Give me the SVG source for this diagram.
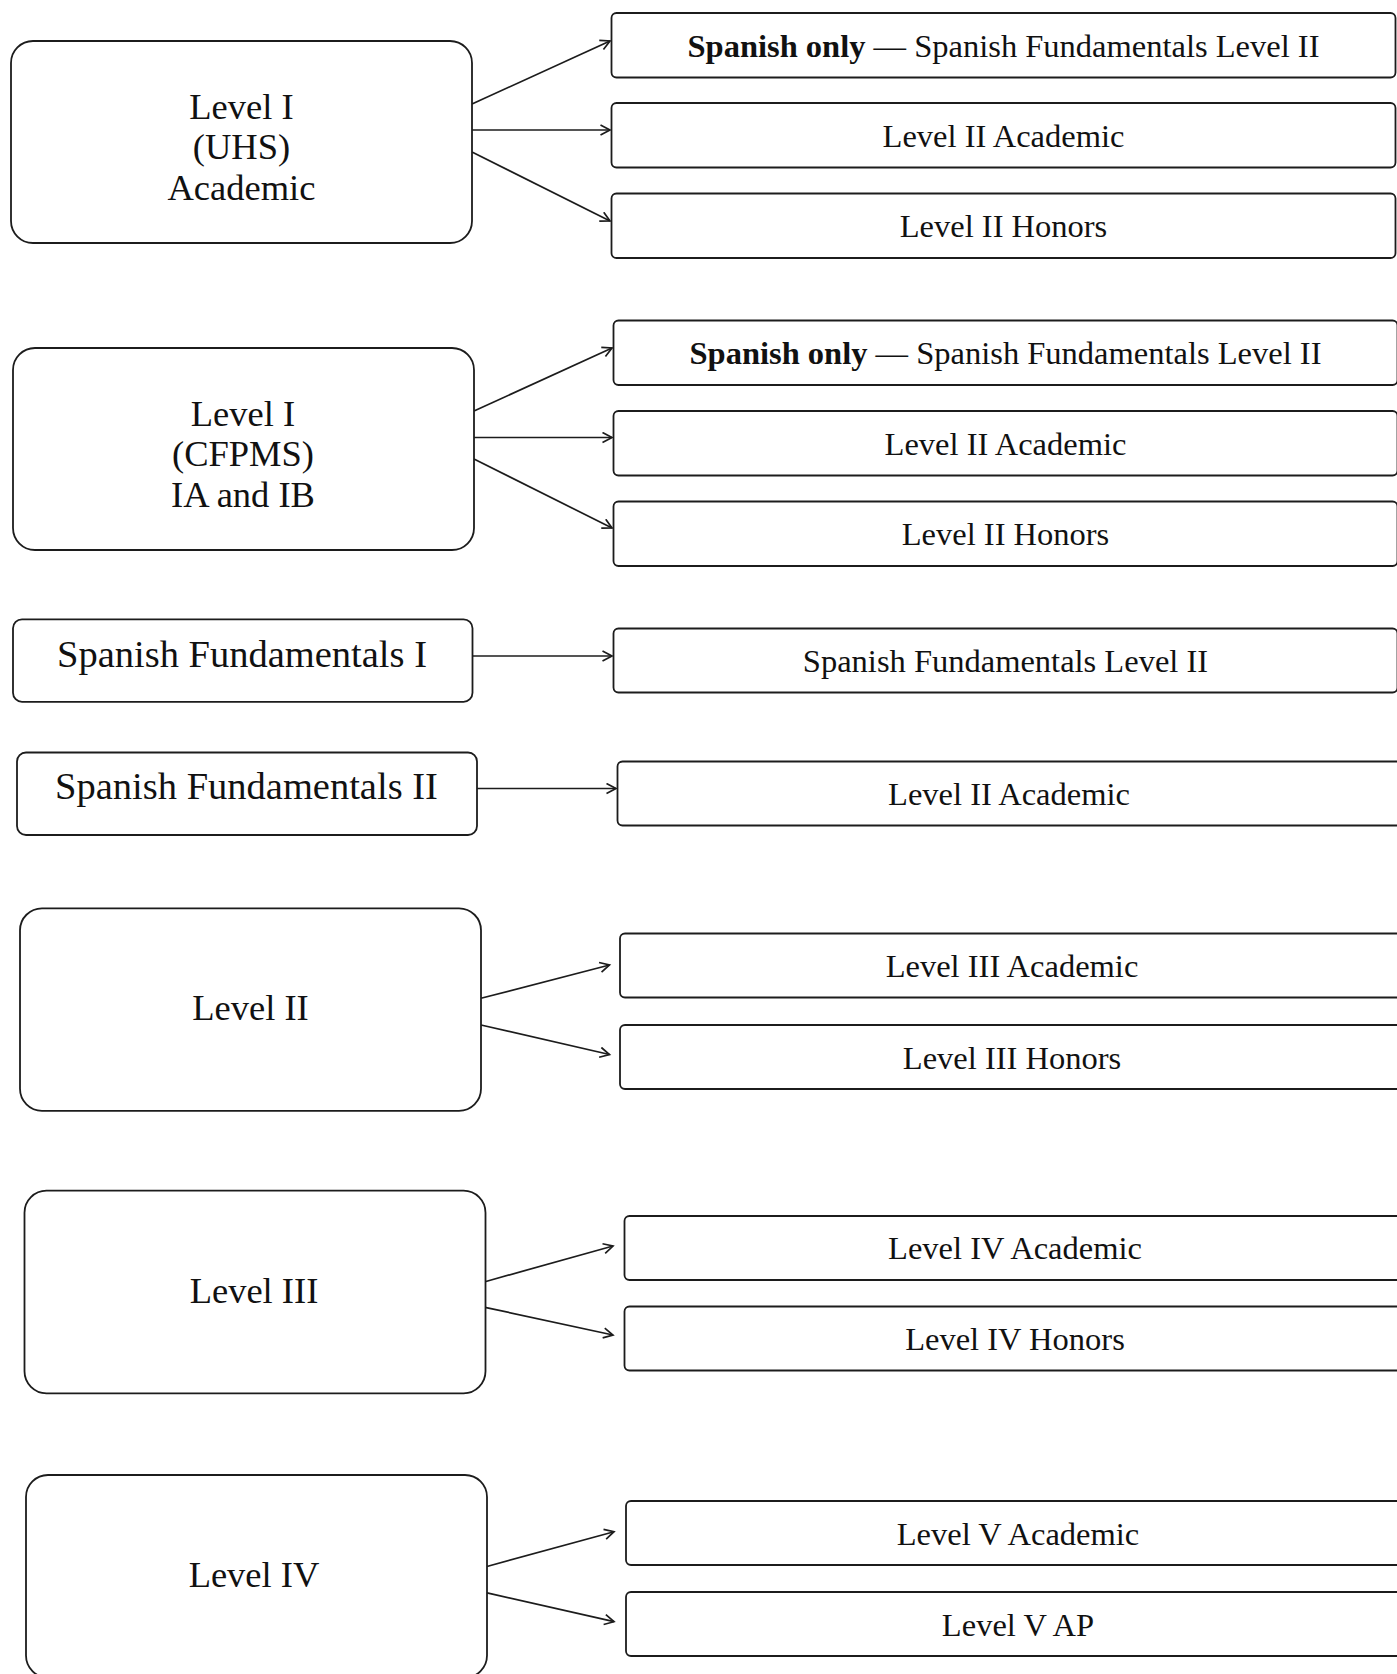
<svg xmlns="http://www.w3.org/2000/svg" width="1397" height="1674" viewBox="0 0 1397 1674">
<defs>
<style>
.box{fill:#fff;stroke:#1c1c1c;stroke-width:1.8}
.t{font-family:"Liberation Serif","Times New Roman",serif;fill:#111;text-anchor:middle}
.l{font-size:36.5px}
.s{font-size:38.5px}
.r{font-size:32.5px}
.c{fill:none;stroke:#1c1c1c;stroke-width:1.7;marker-end:url(#ah)}
</style>
<marker id="ah" markerUnits="userSpaceOnUse" markerWidth="14" markerHeight="14" refX="11" refY="6" orient="auto">
<path d="M1.5,1 L11,6 L1.5,11" fill="none" stroke="#1c1c1c" stroke-width="1.7"/>
</marker>
</defs>
<rect width="1397" height="1674" fill="#fff"/>

<g id="connectors">
<line class="c" x1="472" y1="104" x2="610" y2="41"/>
<line class="c" x1="472" y1="130" x2="610" y2="130"/>
<line class="c" x1="472" y1="152" x2="610" y2="221"/>
<line class="c" x1="474" y1="411" x2="612" y2="348"/>
<line class="c" x1="474" y1="437.5" x2="612" y2="437.5"/>
<line class="c" x1="474" y1="459" x2="612" y2="528"/>
<line class="c" x1="473" y1="656" x2="612" y2="656"/>
<line class="c" x1="477" y1="788.5" x2="616" y2="788.5"/>
<line class="c" x1="481" y1="998.3" x2="609.5" y2="965"/>
<line class="c" x1="481" y1="1025" x2="609.5" y2="1054.5"/>
<line class="c" x1="485" y1="1281.7" x2="613" y2="1246"/>
<line class="c" x1="485" y1="1307.3" x2="613" y2="1335"/>
<line class="c" x1="486" y1="1566.7" x2="614" y2="1531.7"/>
<line class="c" x1="486" y1="1592.7" x2="614" y2="1621.7"/>
</g>

<g id="n-level1-uhs">
<rect class="box" x="11" y="41" width="461" height="202" rx="22"/>
<text class="t l" x="241.5" y="118.5">Level I</text>
<text class="t l" x="241.5" y="159">(UHS)</text>
<text class="t l" x="241.5" y="199.5">Academic</text>
</g>
<g id="n-g1-sf2">
<rect class="box" x="611.5" y="13" width="784" height="64.5" rx="5"/>
<text class="t r" x="1003.5" y="56.7"><tspan font-weight="bold">Spanish only</tspan> — Spanish Fundamentals Level II</text>
</g>
<g id="n-g1-acad">
<rect class="box" x="611.5" y="103" width="784" height="64.5" rx="5"/>
<text class="t r" x="1003.5" y="146.7">Level II Academic</text>
</g>
<g id="n-g1-hon">
<rect class="box" x="611.5" y="193.5" width="784" height="64.5" rx="5"/>
<text class="t r" x="1003.5" y="237.2">Level II Honors</text>
</g>

<g id="n-level1-cfpms">
<rect class="box" x="13" y="348" width="461" height="202" rx="22"/>
<text class="t l" x="243" y="425.5">Level I</text>
<text class="t l" x="243" y="466">(CFPMS)</text>
<text class="t l" x="243" y="506.5">IA and IB</text>
</g>
<g id="n-g2-sf2">
<rect class="box" x="613.5" y="320.5" width="784" height="64.5" rx="5"/>
<text class="t r" x="1005.5" y="364.2"><tspan font-weight="bold">Spanish only</tspan> — Spanish Fundamentals Level II</text>
</g>
<g id="n-g2-acad">
<rect class="box" x="613.5" y="411" width="784" height="64.5" rx="5"/>
<text class="t r" x="1005.5" y="454.7">Level II Academic</text>
</g>
<g id="n-g2-hon">
<rect class="box" x="613.5" y="501.5" width="784" height="64.5" rx="5"/>
<text class="t r" x="1005.5" y="545.2">Level II Honors</text>
</g>

<g id="n-sf1">
<rect class="box" x="13" y="619.3" width="459.5" height="82.5" rx="9"/>
<text class="t s" x="242" y="667">Spanish Fundamentals I</text>
</g>
<g id="n-g3-sf2">
<rect class="box" x="613.5" y="628.5" width="784" height="64" rx="5"/>
<text class="t r" x="1005.5" y="672.2">Spanish Fundamentals Level II</text>
</g>

<g id="n-sf2">
<rect class="box" x="17" y="752.5" width="460" height="82.5" rx="9"/>
<text class="t s" x="246.5" y="799">Spanish Fundamentals II</text>
</g>
<g id="n-g4-acad">
<rect class="box" x="617.5" y="761.5" width="784" height="64" rx="5"/>
<text class="t r" x="1009" y="805">Level II Academic</text>
</g>

<g id="n-level2">
<rect class="box" x="20" y="908.3" width="461" height="202.5" rx="22"/>
<text class="t l" x="250.5" y="1019.5">Level II</text>
</g>
<g id="n-g5-acad">
<rect class="box" x="620" y="933.5" width="784" height="64" rx="5"/>
<text class="t r" x="1012" y="977">Level III Academic</text>
</g>
<g id="n-g5-hon">
<rect class="box" x="620" y="1025" width="784" height="64" rx="5"/>
<text class="t r" x="1012" y="1068.5">Level III Honors</text>
</g>

<g id="n-level3">
<rect class="box" x="24.5" y="1190.7" width="461" height="202.6" rx="22"/>
<text class="t l" x="254" y="1302.5">Level III</text>
</g>
<g id="n-g6-acad">
<rect class="box" x="624.5" y="1216" width="784" height="64" rx="5"/>
<text class="t r" x="1015" y="1259">Level IV Academic</text>
</g>
<g id="n-g6-hon">
<rect class="box" x="624.5" y="1306.5" width="784" height="64" rx="5"/>
<text class="t r" x="1015" y="1350">Level IV Honors</text>
</g>

<g id="n-level4">
<rect class="box" x="26" y="1475" width="461" height="202.6" rx="22"/>
<text class="t l" x="254" y="1586.7">Level IV</text>
</g>
<g id="n-g7-acad">
<rect class="box" x="626" y="1501" width="784" height="64" rx="5"/>
<text class="t r" x="1018" y="1544.5">Level V Academic</text>
</g>
<g id="n-g7-ap">
<rect class="box" x="626" y="1592" width="784" height="64" rx="5"/>
<text class="t r" x="1018" y="1635.5">Level V AP</text>
</g>
</svg>
